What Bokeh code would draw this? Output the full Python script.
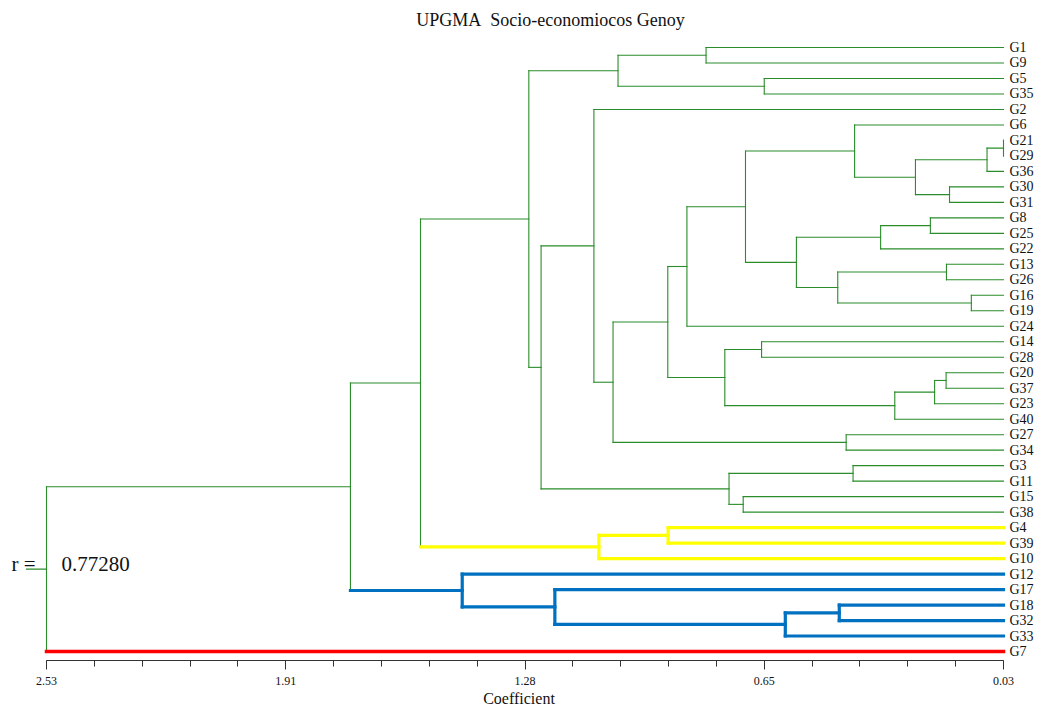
from bokeh.plotting import figure
from bokeh.models import Range1d, LinearAxis, FixedTicker, ColumnDataSource
from bokeh.embed import file_html
from bokeh.resources import INLINE
from bokeh.core.properties import value

# ---------------- data ----------------
chart_title = "UPGMA\u00a0 Socio-economiocos Genoy"
axis_title = "Coefficient"
r_label = "r ="
r_value = "0.77280"

leaves = ["G1", "G9", "G5", "G35", "G2", "G6", "G21", "G29", "G36", "G30",
          "G31", "G8", "G25", "G22", "G13", "G26", "G16", "G19", "G24", "G14",
          "G28", "G20", "G37", "G23", "G40", "G27", "G34", "G3", "G11", "G15",
          "G38", "G4", "G39", "G10", "G12", "G17", "G18", "G32", "G33", "G7"]
leaf_group = ["green"] * 31 + ["yellow"] * 3 + ["blue"] * 5 + ["red"]

# merges: node n(i+1) joins merge_a[i] and merge_b[i] at coefficient merge_h[i]
merge_a = ["G1", "G5", "n1", "G21", "n4", "G30", "n5", "G6", "G8", "n9",
           "G13", "G16", "n11", "n10", "n8", "n15", "G14", "G20", "n18", "n19",
           "n17", "n16", "G27", "n22", "G2", "G3", "G15", "n26", "n25", "n3",
           "G4", "n31", "n30", "G18", "n34", "G17", "G12", "n33", "n38"]
merge_b = ["G9", "G35", "n2", "G29", "G36", "G31", "n6", "n7", "G25", "G22",
           "G26", "G19", "n12", "n13", "n14", "G24", "G28", "G37", "G23", "G40",
           "n20", "n21", "G34", "n23", "n24", "G11", "G38", "n27", "n28", "n29",
           "G39", "G10", "n32", "G32", "G33", "n35", "n36", "n37", "G7"]
merge_h = [0.807, 0.655, 1.037, 0.030, 0.073, 0.171, 0.260, 0.419, 0.221, 0.351,
           0.179, 0.114, 0.463, 0.571, 0.704, 0.857, 0.662, 0.180, 0.210, 0.314,
           0.758, 0.907, 0.441, 1.050, 1.100, 0.423, 0.710, 0.747, 1.238, 1.270,
           0.906, 1.087, 1.553, 0.459, 0.600, 1.202, 1.444, 1.736, 2.530]

tick_values = [2.53, 1.905, 1.28, 0.655, 0.03]
tick_labels = ["2.53", "1.91", "1.28", "0.65", "0.03"]
coef_min, coef_max = 0.03, 2.53

# ---------------- styles ----------------
group_color = {"green": "#2a8c2a", "yellow": "#ffff00", "blue": "#0070c0", "red": "#ff0000"}
group_width = {"green": 1.1, "yellow": 3.2, "blue": 3.2, "red": 3.5}
FONT = value("Liberation Serif")

W, H = 1037, 711
PX_LEFT, PX_RIGHT = 46, 1003      # pixel of coef_max / coef_min
PX_TOP_LEAF, PX_BOT_LEAF = 47, 651
FRAME_BOTTOM = 660

xscale = (PX_RIGHT - PX_LEFT) / (coef_max - coef_min)
x_start = coef_max + PX_LEFT / xscale
x_end = coef_min - (W - PX_RIGHT) / xscale
yscale = (PX_BOT_LEAF - PX_TOP_LEAF) / (len(leaves) - 1)
y_top = -PX_TOP_LEAF / yscale
y_bot = (len(leaves) - 1) + (FRAME_BOTTOM - PX_BOT_LEAF) / yscale


def xd(px):
    return x_start - px / xscale


def yd(py):
    return y_top + py / yscale


# ---------------- tree geometry ----------------
pos_y = {name: i for i, name in enumerate(leaves)}
pos_x = {name: coef_min for name in leaves}
grp = {name: g for name, g in zip(leaves, leaf_group)}

x0, y0, x1, y1, col, wid = [], [], [], [], [], []
for i, (a, b, h) in enumerate(zip(merge_a, merge_b, merge_h)):
    n = "n%d" % (i + 1)
    pos_x[n] = h
    pos_y[n] = (pos_y[a] + pos_y[b]) / 2.0
    grp[n] = grp[a] if grp[a] == grp[b] else "green"
    # vertical connector
    x0.append(h); y0.append(pos_y[a]); x1.append(h); y1.append(pos_y[b])
    col.append(group_color[grp[n]]); wid.append(group_width[grp[n]])
    # horizontal branches
    for c in (a, b):
        x0.append(h); y0.append(pos_y[c]); x1.append(pos_x[c]); y1.append(pos_y[c])
        col.append(group_color[grp[c]]); wid.append(group_width[grp[c]])

root = "n%d" % len(merge_h)
# root stub
x0.append(pos_x[root]); y0.append(pos_y[root])
x1.append(xd(26)); y1.append(pos_y[root])
col.append(group_color["green"]); wid.append(1.1)

src = ColumnDataSource(dict(x0=x0, y0=y0, x1=x1, y1=y1, color=col, width=wid))

p = figure(width=W, height=H, x_range=Range1d(x_start, x_end),
           y_range=Range1d(y_bot, y_top), toolbar_location=None,
           output_backend="svg", x_axis_type=None, y_axis_type=None,
           min_border_left=0, min_border_right=0, min_border_top=0,
           min_border_bottom=H - FRAME_BOTTOM)
p.outline_line_color = None
p.xgrid.visible = False
p.ygrid.visible = False
p.background_fill_color = "white"
p.border_fill_color = "white"

p.segment(x0="x0", y0="y0", x1="x1", y1="y1", line_color="color",
          line_width="width", line_cap="square", source=src)

# leaf labels
p.text(x=[coef_min] * len(leaves), y=list(range(len(leaves))), text=leaves,
       x_offset=6, text_baseline="middle", text_align="left",
       text_font=FONT, text_font_size="14px", text_color="#111111")

# title and r value
p.text(x=[xd(550)], y=[yd(19)], text=[chart_title], text_align="center",
       text_baseline="middle", text_font=FONT, text_font_size="18px",
       text_color="#111111")
p.text(x=[xd(11)], y=[yd(563)], text=[r_label], text_align="left",
       text_baseline="middle", text_font=FONT, text_font_size="21px",
       text_color="#111111")
p.text(x=[xd(61)], y=[yd(563)], text=[r_value], text_align="left",
       text_baseline="middle", text_font=FONT, text_font_size="21px",
       text_color="#111111")

minor = [round(coef_max - 0.125 * k, 4) for k in range(21)]
ax = LinearAxis(ticker=FixedTicker(ticks=tick_values, minor_ticks=minor),
                bounds=(coef_min, coef_max), axis_label=axis_title)
ax.major_label_overrides = dict(zip(tick_values, tick_labels))
ax.axis_line_color = "#333333"
ax.major_tick_line_color = "#333333"
ax.minor_tick_line_color = "#333333"
ax.major_tick_out = 9
ax.major_tick_in = 0
ax.minor_tick_out = 6
ax.minor_tick_in = 0
ax.major_label_standoff = 7
ax.major_label_text_font = "Liberation Serif"
ax.major_label_text_font_size = "12px"
ax.major_label_text_color = "#111111"
ax.axis_label_text_font = "Liberation Serif"
ax.axis_label_text_font_size = "16px"
ax.axis_label_text_font_style = "normal"
ax.axis_label_text_color = "#111111"
ax.axis_label_standoff = 2
p.add_layout(ax, "below")

open("out.html", "w").write(file_html(p, INLINE))
